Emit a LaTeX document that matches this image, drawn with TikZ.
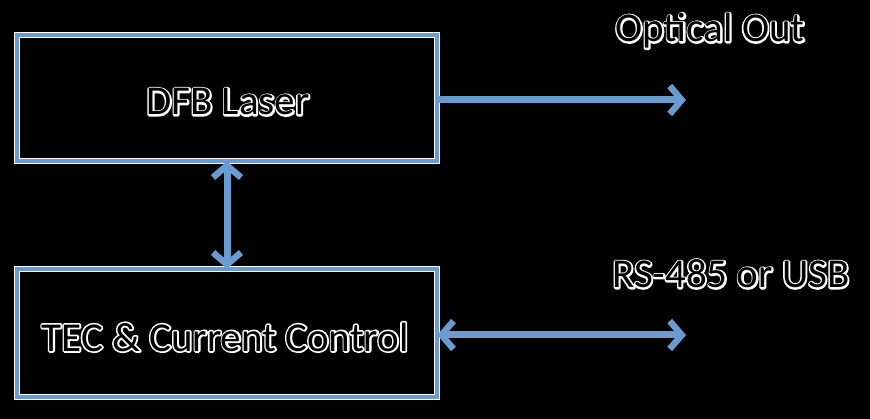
\documentclass[tikz,border=0pt]{standalone}
\usepackage{fontspec}
\setmainfont{Carlito}
\usetikzlibrary{arrows.meta}
\definecolor{boxblue}{HTML}{6A9BD0}
\tikzset{
  blk/.style={draw=boxblue, line width=4.5pt},
  glowline/.style={draw=white, line width=6.5pt},
  lbl/.style={font=\fontsize{41}{46}\selectfont, text=black, inner sep=0pt},
  halolbl/.style={lbl, text=white},
  barb/.tip={Straight Barb[length=12pt,width=28pt,line width=6.5pt]},
  conn/.style={draw=boxblue, line width=7pt, -barb},
  conn2/.style={draw=boxblue, line width=7pt, barb-barb},
}
\newcommand{\halotext}[1]{\special{pdf:literal direct 1 G 3.4 w 1 j 1 Tr}#1\special{pdf:literal direct 0 Tr}}
\newcommand{\glowlabel}[3]{%
  \node[halolbl] (#1h) at (#2) {\halotext{#3}};
  \node[lbl] (#1) at (#2) {#3};}
\begin{document}
\begin{tikzpicture}[x=1pt,y=1pt]
\fill[black] (0,0) rectangle (870,-419);
\useasboundingbox (0,0) rectangle (870,-419);
% boxes
\coordinate (b1nw) at (17,-35);
\coordinate (b1se) at (437,-161);
\coordinate (b2nw) at (17,-269);
\coordinate (b2se) at (437,-397);
\draw[glowline] (b1nw) rectangle (b1se);
\draw[blk] (b1nw) rectangle (b1se);
\draw[glowline] (b2nw) rectangle (b2se);
\draw[blk] (b2nw) rectangle (b2se);
\node[inner sep=0pt, minimum width=420pt, minimum height=126pt] (laser) at (227,-98) {};
\node[inner sep=0pt, minimum width=420pt, minimum height=128pt] (tec) at (227,-333) {};
\glowlabel{laserT}{228,-102}{DFB Laser}
\glowlabel{tecT}{225,-337}{TEC \& Current Control}
\glowlabel{optT}{710,-31}{Optical Out}
\glowlabel{rsT}{731,-274}{RS-485 or USB}
\coordinate (optEnd) at (686,-100);
\coordinate (rsEnd) at (686,-335);
% connectors
\draw[conn] (laser.east |- optEnd) -- (optEnd);
\draw[conn2] (tec.east |- rsEnd) -- (rsEnd);
\draw[conn2] (laser.south) -- (tec.north);
\end{tikzpicture}
\end{document}
